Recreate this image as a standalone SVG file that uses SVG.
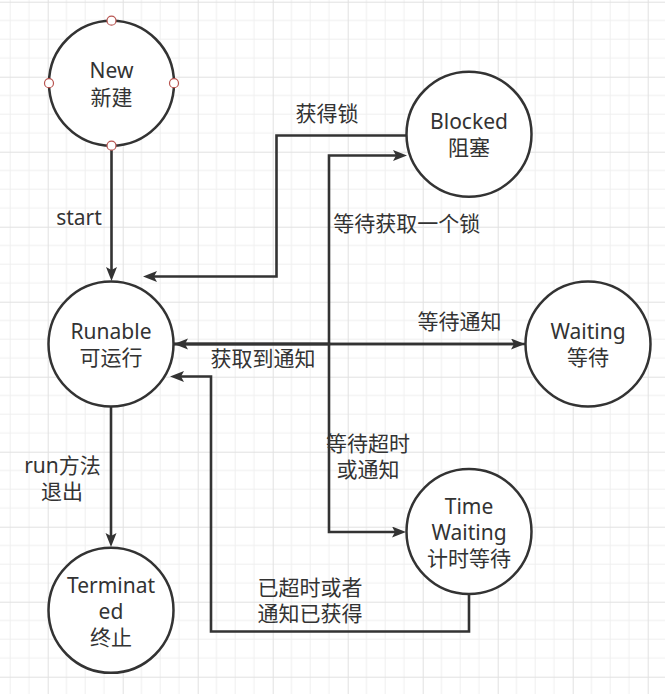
<svg xmlns="http://www.w3.org/2000/svg" width="665" height="694" viewBox="0 0 665 694">
<defs>
<pattern id="grid" patternUnits="userSpaceOnUse" x="47.7" y="1.7" width="75" height="75">
<path d="M18.75,0V75M37.5,0V75M56.25,0V75M0,18.75H75M0,37.5H75M0,56.25H75" stroke="#efefef" stroke-width="1" fill="none"/>
<path d="M0.5,0V75M0,0.5H75" stroke="#e1e1e1" stroke-width="1" fill="none"/>
</pattern>
<marker id="arr" markerUnits="userSpaceOnUse" markerWidth="16" markerHeight="12" refX="3" refY="5.5" orient="auto" viewBox="0 0 16 12">
<path d="M0,0 L14,5.5 L0,11 L3,5.5 z" fill="#333333"/>
</marker>
<style>
.node circle.body{fill:#ffffff;stroke:#333333;stroke-width:2.5}
.pt{fill:#ffffff;stroke:#b85450;stroke-width:1.2}
text{font-family:"Noto Sans","Noto Sans CJK SC",sans-serif;font-size:21px;fill:#333333;text-anchor:middle}
.edge{fill:none;stroke:#333333;stroke-width:2.6}
</style>
</defs>
<rect x="0" y="0" width="665" height="694" fill="#ffffff"/>
<rect x="0" y="0" width="665" height="694" fill="url(#grid)"/>

<g id="connectors">
<path class="edge" d="M111.5,150 V270" marker-end="url(#arr)"/>
<path class="edge" d="M406.5,135.5 H276.5 V276.5 H154" marker-end="url(#arr)"/>
<path class="edge" d="M174,344 H329 V155.5 H396" marker-end="url(#arr)"/>
<path class="edge" d="M174,344 H329 V532 H395" marker-end="url(#arr)"/>
<path class="edge" d="M174,344 H514" marker-end="url(#arr)"/>
<path class="edge" d="M525,344 H185" marker-end="url(#arr)"/>
<path class="edge" d="M469,594 V631.5 H211 V376.5 H181" marker-end="url(#arr)"/>
<path class="edge" d="M111,406.5 V536" marker-end="url(#arr)"/>
<text x="79" y="225">start</text>
<text x="327" y="120.7">获得锁</text>
<text x="406.7" y="231">等待获取一个锁</text>
<text x="459.5" y="328.7">等待通知</text>
<text x="263" y="366">获取到通知</text>
<text x="62.5" y="472.5">run方法</text>
<text x="62" y="498.5">退出</text>
<text x="368" y="451">等待超时</text>
<text x="368" y="477">或通知</text>
<text x="310" y="594.7">已超时或者</text>
<text x="310" y="621">通知已获得</text>
</g>

<g id="new" class="node">
<circle class="body" cx="111.5" cy="83.2" r="62.5"/>
<text x="111.5" y="78">New</text>
<text x="111.5" y="104.7">新建</text>
<circle class="pt" cx="111.5" cy="20.7" r="4.5"/>
<circle class="pt" cx="49" cy="83.2" r="4.5"/>
<circle class="pt" cx="174" cy="83.2" r="4.5"/>
<circle class="pt" cx="111.5" cy="145.7" r="4.5"/>
</g>

<g id="blocked" class="node">
<circle class="body" cx="469" cy="134.2" r="62.5"/>
<text x="469" y="129.2">Blocked</text>
<text x="469" y="155.3">阻塞</text>
</g>

<g id="runable" class="node">
<circle class="body" cx="111" cy="344" r="62.5"/>
<text x="111" y="338.5">Runable</text>
<text x="111" y="365.3">可运行</text>
</g>

<g id="waiting" class="node">
<circle class="body" cx="588" cy="344" r="62.5"/>
<text x="588" y="339">Waiting</text>
<text x="588" y="365">等待</text>
</g>

<g id="timewaiting" class="node">
<circle class="body" cx="469" cy="531.5" r="62.5"/>
<text x="469" y="514">Time</text>
<text x="469" y="540">Waiting</text>
<text x="469" y="566">计时等待</text>
</g>

<g id="terminated" class="node">
<circle class="body" cx="111" cy="610.3" r="62.5"/>
<text x="111" y="593">Terminat</text>
<text x="111" y="619">ed</text>
<text x="111" y="645">终止</text>
</g>
</svg>
